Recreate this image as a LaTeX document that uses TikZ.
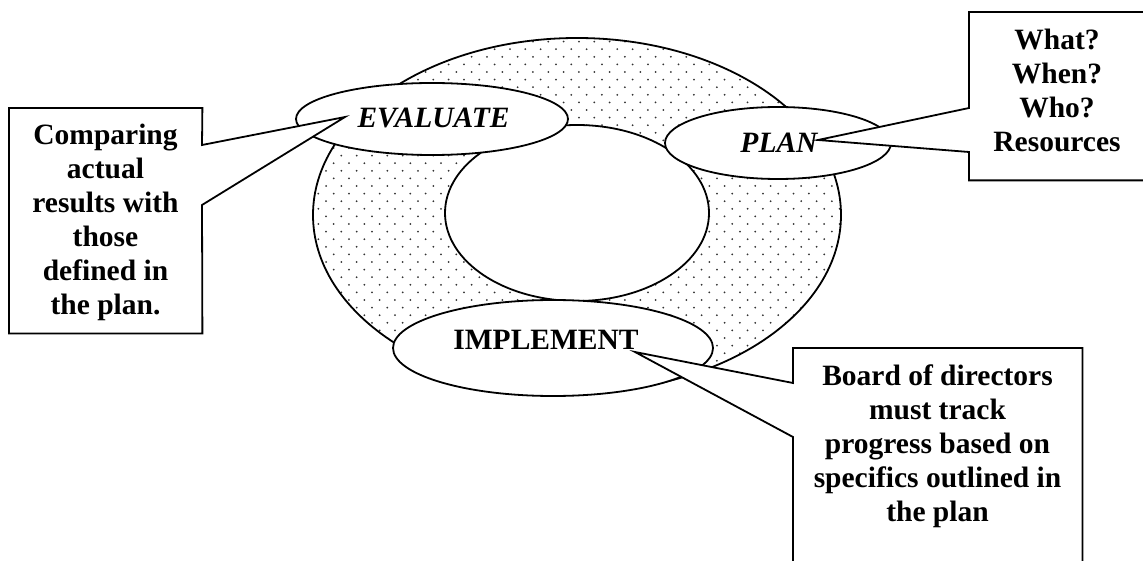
\documentclass[tikz,border=0pt]{standalone}
\usepackage{fontspec}
\setmainfont{Liberation Serif}
\usetikzlibrary{shapes.geometric}
\newcommand\mlines[1]{\begin{tabular}[t]{@{}c@{}}#1\end{tabular}}
\begin{document}
\begin{tikzpicture}[x=1pt,y=-1pt,
  outline/.style={draw=black, line width=1.8pt},
  oval/.style={ellipse, outline, fill=white, inner sep=0pt},
  word/.style={font=\fontsize{29.5}{34}\selectfont\bfseries\itshape, inner sep=0pt, anchor=base},
  boxtext/.style={font=\fontsize{29.5}{34}\selectfont\bfseries, inner sep=0pt, anchor=base},
  callout/.style={outline, fill=white, line join=miter},
  boxframe/.style={inner sep=0pt, anchor=north west},
  dotc/.style={fill=black!80}]
\useasboundingbox (0,0) rectangle (1143,561);

% dotted ring
\begin{scope}
\clip (577,215) ellipse [x radius=264pt, y radius=177pt];
\foreach \r in {0,...,47}{
  \pgfmathsetmacro\yy{34+7.6*\r}
  \pgfmathsetmacro\xo{310.67-7.67*mod(\r,2)}
  \foreach \c in {0,...,35}{
    \fill[dotc] (\xo+15.33*\c,\yy) circle (1pt);
  }
}
\end{scope}

\node[oval, fill=none, minimum width=528pt, minimum height=354pt] (outer) at (577,215) {};
\node[oval, minimum width=264pt, minimum height=176pt] (inner) at (577,213) {};
\node[oval, minimum width=272pt, minimum height=72pt] (evalo) at (432,119) {};
\node[oval, minimum width=226pt, minimum height=72pt] (plano) at (778,143) {};
\node[oval, minimum width=320pt, minimum height=96pt] (implo) at (553,348) {};

\node[word] (tEval) at (433.5,128) {EVALUATE};
\node[word] (tPlan) at (779,153) {PLAN};
\node[boxtext] (tImpl) at (546,349) {IMPLEMENT};

% left callout
\node[boxframe, minimum width=193pt, minimum height=225pt] (boxL) at (9,108) {};
\coordinate (aL1) at (202,145);
\coordinate (aL2) at (202,205);
\coordinate (tipL) at (345,117);
\draw[callout] (boxL.north west) -- (boxL.north east) -- (aL1) -- (tipL) -- (aL2)
  -- (boxL.south east) -- (boxL.south west) -- cycle;
\node[boxtext] (txL) at (105.5,145) {\mlines{Comparing\\ actual\\ results with\\ those\\ defined in\\ the plan.}};

% top-right callout
\node[boxframe, minimum width=176pt, minimum height=168pt] (boxP) at (969,12) {};
\coordinate (aP1) at (969,108);
\coordinate (aP2) at (969,152);
\coordinate (tipP) at (818,140);
\draw[callout] (boxP.north west) -- (boxP.north east) -- (boxP.south east)
  -- (boxP.south west) -- (aP2) -- (tipP) -- (aP1) -- cycle;
\node[boxtext] (txP) at (1057,50) {\mlines{What?\\ When?\\ Who?\\ Resources}};

% bottom-right callout
\node[boxframe, minimum width=289pt, minimum height=232pt] (boxI) at (793,348) {};
\coordinate (aI1) at (793,383);
\coordinate (aI2) at (793,437);
\coordinate (tipI) at (635,352);
\draw[callout] (boxI.north west) -- (boxI.north east) -- (boxI.south east)
  -- (boxI.south west) -- (aI2) -- (tipI) -- (aI1) -- cycle;
\node[boxtext] (txI) at (937.5,385) {\mlines{Board of directors\\ must track\\ progress based on\\ specifics outlined in\\ the plan}};
\end{tikzpicture}
\end{document}
